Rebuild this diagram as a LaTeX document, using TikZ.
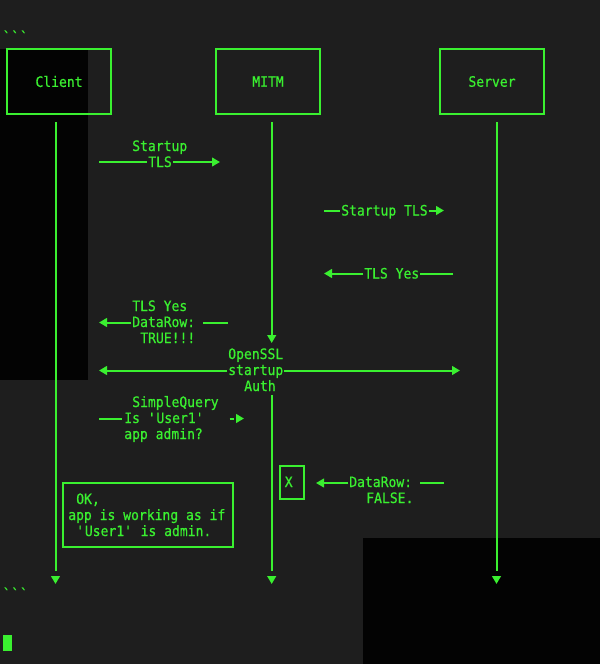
\documentclass[tikz,border=0pt]{standalone}
\usepackage{fontspec}
\newfontfamily\termfont{DejaVu Sans Mono}[FakeStretch=0.91,FakeBold=0.6]
\usetikzlibrary{arrows.meta}
\definecolor{tgreen}{RGB}{58,240,48}
\definecolor{bggray}{RGB}{30,30,30}
\definecolor{bgdark}{RGB}{3,3,3}
\tikzset{
  txt/.style={text=tgreen, font=\termfont\fontsize{10.75pt}{12pt}\selectfont, inner sep=0pt, anchor=base west},
  boxst/.style={draw=tgreen, line width=1.5pt, minimum width=78pt, minimum height=48.75pt, inner sep=0pt,
    text=tgreen, font=\termfont\fontsize{10.75pt}{12pt}\selectfont},
  framest/.style={draw=tgreen, line width=1.5pt, inner sep=0pt},
  ln/.style={draw=tgreen, line width=1.5pt},
  arr/.style={ln, -{Triangle[length=6pt,width=6.5pt]}},
}
\begin{document}
\begin{tikzpicture}[x=0.75pt,y=-0.75pt]
\useasboundingbox (0,0) rectangle (600,664);
% background
\fill[bggray] (0,0) rectangle (600,664);
\fill[bgdark] (0,49) rectangle (88,380);
\fill[bgdark] (363,538) rectangle (600,664);

% code fences and cursor
\node[txt] (bt1) at (2.5,42) {\textasciigrave\textasciigrave\textasciigrave};
\node[txt] (bt2) at (2.5,599) {\textasciigrave\textasciigrave\textasciigrave};
\fill[tgreen] (3,635) rectangle (11.5,651);

% participants
\node[boxst] (client) at (59,81.5) {Client};
\node[boxst] (mitm) at (268,81.5) {MITM};
\node[boxst] (server) at (492,81.5) {Server};

% lifelines
\coordinate (cl0) at (55.5,122);
\coordinate (cl1) at (55.5,571);
\coordinate (cl2) at (55.5,576);
\coordinate (cl3) at (55.5,584);
\draw[ln] (cl0) -- (cl1);
\draw[arr] (cl2) -- (cl3);

\coordinate (ml0) at (271.7,122);
\coordinate (ml1) at (271.7,343);
\coordinate (ml2) at (271.7,395);
\coordinate (ml3) at (271.7,571);
\coordinate (ml4) at (271.7,576);
\coordinate (ml5) at (271.7,584);
\draw[arr] (ml0) -- (ml1);
\draw[ln] (ml2) -- (ml3);
\draw[arr] (ml4) -- (ml5);

\coordinate (sl0) at (496.5,122);
\coordinate (sl1) at (496.5,571);
\coordinate (sl2) at (496.5,576);
\coordinate (sl3) at (496.5,584);
\draw[ln] (sl0) -- (sl1);
\draw[arr] (sl2) -- (sl3);

% message 1: Startup TLS (client -> mitm)
\node[txt] (m1a) at (132,151) {Startup};
\node[txt] (m1b) at (148,167) {TLS};
\coordinate (m1s) at (99,162);
\coordinate (m1e) at (220,162);
\draw[ln] (m1s) -- ([xshift=-0.5pt]m1b.west |- m1s);
\draw[arr] ([xshift=0.5pt]m1b.east |- m1s) -- (m1e);

% message 2: Startup TLS (mitm -> server)
\node[txt] (m2) at (341,215.5) {Startup TLS};
\coordinate (m2s) at (324,210.5);
\coordinate (m2e) at (444,210.5);
\draw[ln] (m2s) -- ([xshift=-0.5pt]m2.west |- m2s);
\draw[arr] ([xshift=0.5pt]m2.east |- m2s) -- (m2e);

% message 3: TLS Yes (server -> mitm)
\node[txt] (m3) at (364,278.5) {TLS Yes};
\coordinate (m3s) at (453,273.5);
\coordinate (m3e) at (324,273.5);
\draw[ln] (m3s) -- ([xshift=0.5pt]m3.east |- m3s);
\draw[arr] ([xshift=-0.5pt]m3.west |- m3s) -- (m3e);

% message 4: TLS Yes / DataRow: TRUE!!! (mitm -> client)
\node[txt] (m4a) at (132,311) {TLS Yes};
\node[txt] (m4b) at (132,327) {DataRow:};
\node[txt] (m4c) at (140,343) {TRUE!!!};
\coordinate (m4s) at (228,322.5);
\coordinate (m4d) at (203,322.5);
\coordinate (m4e) at (99,322.5);
\draw[ln] (m4s) -- (m4d);
\draw[arr] ([xshift=-0.5pt]m4b.west |- m4e) -- (m4e);

% message 5: OpenSSL startup Auth (client <-> server)
\node[txt] (m5a) at (228,359) {OpenSSL};
\node[txt] (m5b) at (228,375) {startup};
\node[txt] (m5c) at (244,391) {Auth};
\coordinate (m5l) at (99,370.5);
\coordinate (m5r) at (460,370.5);
\draw[arr] ([xshift=-0.5pt]m5b.west |- m5l) -- (m5l);
\draw[arr] ([xshift=0.5pt]m5b.east |- m5r) -- (m5r);

% message 6: SimpleQuery (client -> mitm)
\node[txt] (m6a) at (132,407) {SimpleQuery};
\node[txt] (m6b) at (124,423) {Is \textquotesingle User1\textquotesingle};
\node[txt] (m6c) at (124,439) {app admin?};
\coordinate (m6s) at (99,418.5);
\draw[ln] (m6s) -- ([xshift=-1.5pt]m6b.west |- m6s);
\coordinate (m6d1) at (229.5,418.5);
\coordinate (m6d2) at (234,418.5);
\coordinate (m6t0) at (236,418.5);
\coordinate (m6t) at (244,418.5);
\draw[ln] (m6d1) -- (m6d2);
\draw[arr] (m6t0) -- (m6t);

% message 7: DataRow: FALSE. (server side -> X)
\node[framest, minimum width=18pt, minimum height=24.75pt] (xbox) at (292,482.5) {};
\node[txt] (xlab) at (284.5,487) {X};
\node[txt] (m7a) at (349,487) {DataRow:};
\node[txt] (m7b) at (366,503) {FALSE.};
\coordinate (m7s) at (444,483);
\coordinate (m7d) at (420,483);
\coordinate (m7e) at (316,483);
\draw[ln] (m7s) -- (m7d);
\draw[arr] ([xshift=-0.5pt]m7a.west |- m7e) -- (m7e);

% note
\node[framest, minimum width=127.5pt, minimum height=48.5pt] (okbox) at (147.7,515) {};
\node[txt] (ok1) at (76,504) {OK,};
\node[txt] (ok2) at (68,520) {app is working as if};
\node[txt] (ok3) at (76,536) {\textquotesingle User1\textquotesingle{} is admin.};
\end{tikzpicture}
\end{document}
